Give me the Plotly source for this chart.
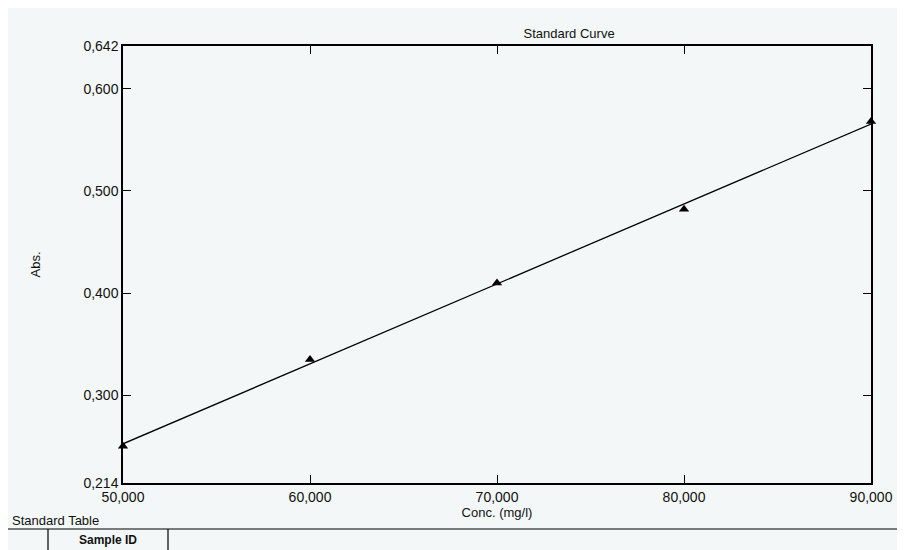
import numpy as np
import plotly.graph_objects as go

conc = [50000, 60000, 70000, 80000, 90000]
absorb = [0.250, 0.335, 0.410, 0.482, 0.568]

x_ticks = [50000, 60000, 70000, 80000, 90000]
x_labels = ["50,000", "60,000", "70,000", "80,000", "90,000"]
y_ticks = [0.214, 0.300, 0.400, 0.500, 0.600, 0.642]
y_labels = ["0,214", "0,300", "0,400", "0,500", "0,600", "0,642"]

slope, icpt = np.polyfit(conc, absorb, 1)
fit_x = [conc[0], conc[-1]]
fit_y = [slope * v + icpt for v in fit_x]

font = "Liberation Sans, Arial, sans-serif"
bg = "#f3f7f7"

fig = go.Figure()
fig.add_trace(go.Scatter(x=fit_x, y=fit_y, mode="lines",
                         line=dict(color="black", width=1.3), showlegend=False))
fig.add_trace(go.Scatter(x=conc, y=absorb, mode="markers",
                         marker=dict(symbol="triangle-up", size=9, color="black"),
                         showlegend=False, cliponaxis=False))

L, R, T, B = 115, 42, 38, 75
fig.update_layout(
    width=905, height=550,
    paper_bgcolor=bg, plot_bgcolor=bg,
    margin=dict(l=L, r=R, t=T, b=B),
    font=dict(family=font, size=13, color="#111"),
    title=dict(text="Standard Curve", x=0.62, xanchor="center", y=0.945, yanchor="bottom",
               font=dict(size=13, family=font, color="#111")),
)
fig.update_xaxes(range=[50000, 90000], tickvals=x_ticks, ticktext=x_labels,
                 ticks="inside", ticklen=8, tickcolor="black", tickwidth=1.3,
                 showline=True, linecolor="black", linewidth=1.5, mirror="ticks",
                 showgrid=False, zeroline=False,
                 title=dict(text="Conc. (mg/l)", standoff=0, font=dict(size=13)),
                 tickfont=dict(size=14))
fig.update_yaxes(range=[0.214, 0.642], tickvals=y_ticks, ticktext=y_labels,
                 ticks="inside", ticklen=8, tickcolor="black", tickwidth=1.3,
                 showline=True, linecolor="black", linewidth=1.5, mirror="ticks",
                 showgrid=False, zeroline=False,
                 title=dict(text="Abs.", standoff=40, font=dict(size=13)),
                 tickfont=dict(size=14))

# table header below the chart (pixel positions converted to paper coords)
ph = 550 - T - B
pw = 905 - L - R
def py(pix):
    return (550 - B - pix) / ph
def px(pix):
    return (pix - L) / pw

fig.add_annotation(text="Standard Table", xref="paper", yref="paper", x=px(2), y=py(503),
                   xanchor="left", yanchor="top", showarrow=False,
                   font=dict(size=13, family=font, color="#111"))
fig.add_shape(type="line", xref="paper", yref="paper", x0=px(0), x1=px(905), y0=py(521), y1=py(521),
              line=dict(color="black", width=1.2))
fig.add_shape(type="line", xref="paper", yref="paper", x0=px(40), x1=px(40), y0=py(521), y1=py(550),
              line=dict(color="black", width=1.2))
fig.add_shape(type="line", xref="paper", yref="paper", x0=px(160), x1=px(160), y0=py(521), y1=py(550),
              line=dict(color="black", width=1.2))
fig.add_annotation(text="<b>Sample ID</b>", xref="paper", yref="paper", x=px(100), y=py(523),
                   xanchor="center", yanchor="top", showarrow=False,
                   font=dict(size=12, family=font, color="#111"))

fig.write_html("out.html")
